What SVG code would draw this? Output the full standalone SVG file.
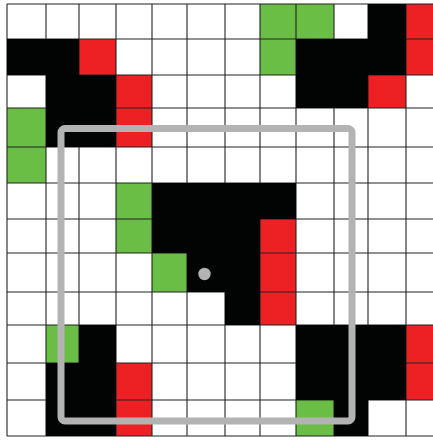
<svg xmlns="http://www.w3.org/2000/svg" width="433" height="441" viewBox="0 0 433 441">
<style>
.k{fill:#020303}.r{fill:#ed2024}.g{fill:#6abd45}
.grid line{stroke:#222;stroke-width:1.1}
</style>
<rect width="433" height="441" fill="#fff"/>
<g id="colour-cells">
<rect class="g" x="260" y="4" width="36" height="35"/>
<rect class="g" x="296" y="4" width="38" height="35"/>
<rect class="r" x="406" y="4" width="38" height="35"/>
<rect class="r" x="79" y="39" width="37" height="36"/>
<rect class="g" x="260" y="39" width="36" height="36"/>
<rect class="r" x="406" y="39" width="38" height="36"/>
<rect class="r" x="116" y="75" width="36" height="33"/>
<rect class="r" x="368" y="75" width="38" height="33"/>
<rect class="g" x="7" y="108" width="39" height="39"/>
<rect class="r" x="116" y="108" width="36" height="39"/>
<rect class="g" x="7" y="147" width="39" height="36"/>
<rect class="g" x="116" y="183" width="36" height="36"/>
<rect class="g" x="116" y="219" width="36" height="34"/>
<rect class="r" x="260" y="219" width="36" height="34"/>
<rect class="g" x="152" y="253" width="35" height="39"/>
<rect class="r" x="260" y="253" width="36" height="39"/>
<rect class="r" x="260" y="292" width="36" height="33"/>
<rect class="g" x="46" y="325" width="33" height="38"/>
<rect class="r" x="406" y="325" width="38" height="38"/>
<rect class="r" x="116" y="363" width="36" height="37"/>
<rect class="r" x="406" y="363" width="38" height="37"/>
<rect class="r" x="116" y="400" width="36" height="36"/>
<rect class="g" x="296" y="400" width="38" height="36"/>
</g>
<g id="grid" class="grid">
<line x1="7" y1="4" x2="7" y2="436"/>
<line x1="46" y1="4" x2="46" y2="436"/>
<line x1="79" y1="4" x2="79" y2="436"/>
<line x1="116" y1="4" x2="116" y2="436"/>
<line x1="152" y1="4" x2="152" y2="436"/>
<line x1="187" y1="4" x2="187" y2="436"/>
<line x1="225" y1="4" x2="225" y2="436"/>
<line x1="260" y1="4" x2="260" y2="436"/>
<line x1="296" y1="4" x2="296" y2="436"/>
<line x1="334" y1="4" x2="334" y2="436"/>
<line x1="368" y1="4" x2="368" y2="436"/>
<line x1="406" y1="4" x2="406" y2="436"/>
<line x1="7" y1="4" x2="433" y2="4"/>
<line x1="7" y1="39" x2="433" y2="39"/>
<line x1="7" y1="75" x2="433" y2="75"/>
<line x1="7" y1="108" x2="433" y2="108"/>
<line x1="7" y1="147" x2="433" y2="147"/>
<line x1="7" y1="183" x2="433" y2="183"/>
<line x1="7" y1="219" x2="433" y2="219"/>
<line x1="7" y1="253" x2="433" y2="253"/>
<line x1="7" y1="292" x2="433" y2="292"/>
<line x1="7" y1="325" x2="433" y2="325"/>
<line x1="7" y1="363" x2="433" y2="363"/>
<line x1="7" y1="400" x2="433" y2="400"/>
<line x1="7" y1="436" x2="433" y2="436"/>
</g>
<g id="black-cells">
<rect class="k" x="368" y="4" width="38" height="35"/>
<rect class="k" x="7" y="39" width="72" height="36"/>
<rect class="k" x="296" y="39" width="110" height="36"/>
<rect class="k" x="46" y="75" width="70" height="33"/>
<rect class="k" x="296" y="75" width="72" height="33"/>
<rect class="k" x="46" y="108" width="70" height="39"/>
<rect class="k" x="152" y="183" width="144" height="36"/>
<rect class="k" x="152" y="219" width="108" height="34"/>
<rect class="k" x="187" y="253" width="73" height="39"/>
<rect class="k" x="225" y="292" width="35" height="33"/>
<rect class="k" x="79" y="325" width="37" height="38"/>
<rect class="k" x="296" y="325" width="110" height="38"/>
<rect class="k" x="46" y="363" width="70" height="37"/>
<rect class="k" x="296" y="363" width="110" height="37"/>
<rect class="k" x="46" y="400" width="70" height="36"/>
<rect class="k" x="334" y="400" width="34" height="36"/>
</g>
<g id="window">
<rect x="61" y="128.5" width="291" height="292.5" rx="4" fill="none" stroke="#b3b3b3" stroke-width="7"/>
<circle cx="204.5" cy="274" r="6.2" fill="#b3b3b3"/>
</g>
</svg>
